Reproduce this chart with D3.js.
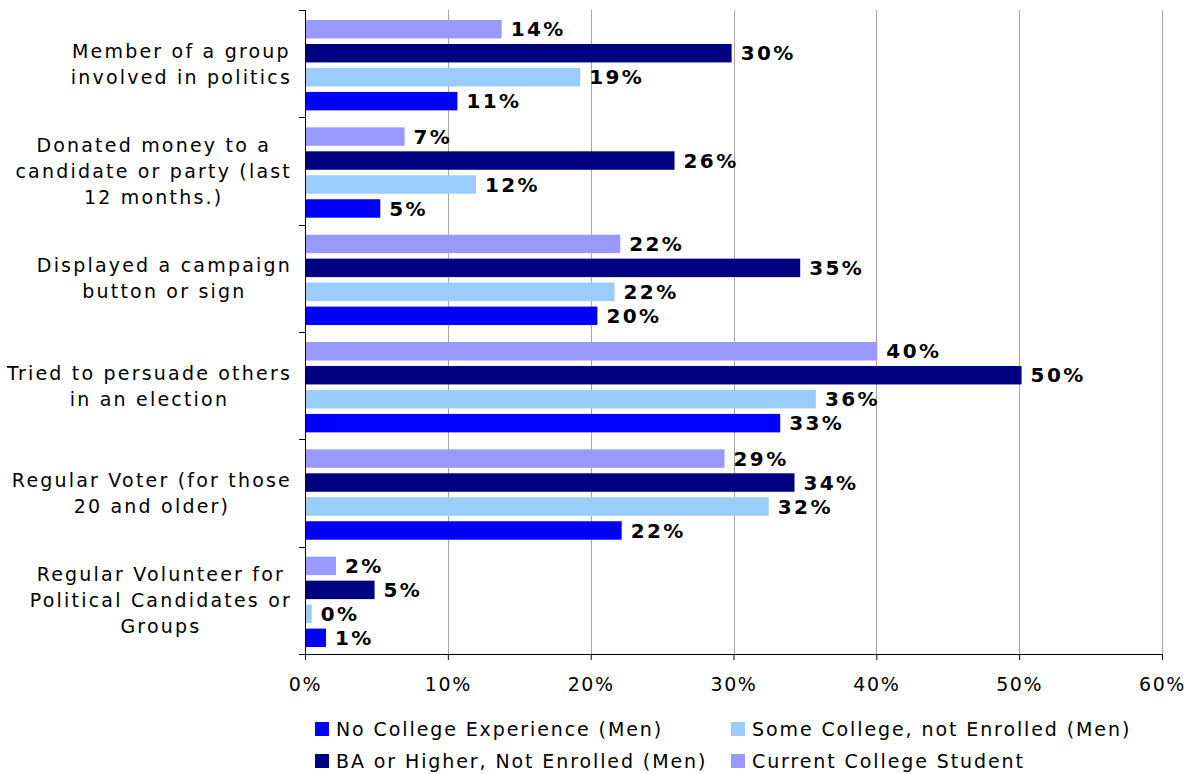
<!DOCTYPE html>
<html>
<head>
<meta charset="utf-8">
<script src="https://cdn.jsdelivr.net/npm/d3@7"></script>
<style>
  html, body { margin: 0; padding: 0; background: #fff; }
  svg { display: block; }
  text { font-family: "DejaVu Sans", Verdana, sans-serif; fill: #000; }
</style>
</head>
<body>
<svg id="chart" width="1191" height="774"></svg>
<script>
// Political participation by education (men), shares of each group
const categories = [
  "Member of a group\ninvolved in politics",
  "Donated money to a\ncandidate or party (last\n12 months.)",
  "Displayed a campaign\nbutton or sign",
  "Tried to persuade others\nin an election",
  "Regular Voter (for those\n20 and older)",
  "Regular Volunteer for\nPolitical Candidates or\nGroups"
];
const seriesNames = [
  "No College Experience (Men)",
  "Some College, not Enrolled (Men)",
  "BA or Higher, Not Enrolled (Men)",
  "Current College Student"
];
const noCollege   = [0.106, 0.052, 0.204, 0.332, 0.221, 0.014];
const someCollege = [0.192, 0.119, 0.216, 0.357, 0.324, 0.004];
const baOrHigher  = [0.298, 0.258, 0.346, 0.501, 0.342, 0.048];
const student     = [0.137, 0.069, 0.220, 0.400, 0.293, 0.021];
const xTicks = [0, 0.1, 0.2, 0.3, 0.4, 0.5, 0.6];
const colors = ["#0000FF", "#99CCFF", "#000080", "#9999FF"];

const seriesValues = [noCollege, someCollege, baOrHigher, student];

const svg = d3.select("#chart");
const plot = { left: 305, right: 1162, top: 10, bottom: 654 };

const x = d3.scaleLinear().domain([0, 0.6]).range([plot.left, plot.right]);
const y = d3.scaleBand().domain(categories).range([plot.top, plot.bottom]).padding(0);
// Within a category the student bar sits on top, no-college bar at the bottom
const inner = d3.scaleBand()
  .domain([3, 2, 1, 0])
  .range([0, y.bandwidth()])
  .paddingInner(0.23)
  .paddingOuter(0.354)
  .align(0.59);

const pct = d3.format(".0%");

// vertical gridlines
svg.append("g")
  .selectAll("line")
  .data(xTicks.slice(1))
  .join("line")
  .attr("x1", d => Math.round(x(d)) + 0.5)
  .attr("x2", d => Math.round(x(d)) + 0.5)
  .attr("y1", plot.top)
  .attr("y2", plot.bottom)
  .attr("stroke", "#a6a6a6")
  .attr("stroke-width", 1);

// bars and value labels
const rows = [];
categories.forEach((c, ci) => {
  seriesValues.forEach((vals, si) => rows.push({ c, si, v: vals[ci] }));
});

const barG = svg.append("g");
barG.selectAll("rect")
  .data(rows)
  .join("rect")
  .attr("x", x(0) + 1)
  .attr("y", d => y(d.c) + inner(d.si))
  .attr("width", d => Math.max(0, x(d.v) - x(0)))
  .attr("height", inner.bandwidth())
  .attr("fill", d => colors[d.si]);

barG.selectAll("text")
  .data(rows)
  .join("text")
  .attr("x", d => x(d.v) + 10)
  .attr("y", d => y(d.c) + inner(d.si) + inner.bandwidth() / 2)
  .attr("dy", "0.36em")
  .style("font-size", "20px")
  .style("font-weight", "bold")
  .style("letter-spacing", "2.4px")
  .text(d => pct(d.v));

// x axis
const xAxis = svg.append("g")
  .attr("transform", `translate(0,${plot.bottom})`)
  .call(d3.axisBottom(x).tickValues(xTicks).tickFormat(pct).tickSize(6).tickSizeOuter(0).tickPadding(18));
xAxis.select(".domain").attr("stroke", "#000");
xAxis.selectAll(".tick line").attr("stroke", "#000");
xAxis.selectAll(".tick text")
  .style("font-size", "19px")
  .style("letter-spacing", "1.6px")
  .attr("fill", "#000");

// y axis: line with ticks between categories
const yG = svg.append("g");
yG.append("line")
  .attr("x1", plot.left + 0.5).attr("x2", plot.left + 0.5)
  .attr("y1", plot.top).attr("y2", plot.bottom)
  .attr("stroke", "#000");
const bounds = categories.map(c => y(c)).concat([plot.bottom]);
yG.selectAll("line.tk")
  .data(bounds)
  .join("line")
  .attr("class", "tk")
  .attr("x1", plot.left - 6).attr("x2", plot.left)
  .attr("y1", d => Math.round(d) + 0.5).attr("y2", d => Math.round(d) + 0.5)
  .attr("stroke", "#000");

// category labels, centred lines, block right-aligned to the axis
const lineH = 26;
categories.forEach(c => {
  const lines = c.split("\n");
  const cy = y(c) + y.bandwidth() / 2;
  const t = yG.append("text")
    .attr("text-anchor", "middle")
    .style("font-size", "19px")
    .style("letter-spacing", "2.2px");
  lines.forEach((ln, i) => {
    t.append("tspan")
      .attr("x", 0)
      .attr("y", cy + (i - (lines.length - 1) / 2) * lineH)
      .attr("dy", "0.36em")
      .text(ln);
  });
  let maxW = 0;
  t.selectAll("tspan").each(function () { maxW = Math.max(maxW, this.getComputedTextLength()); });
  t.selectAll("tspan").attr("x", 292 - maxW / 2);
});

// legend: two columns, filled row by row
const legend = svg.append("g");
const legX = [315, 731];
const legY = [729, 761];
seriesNames.forEach((name, i) => {
  const gx = legX[i % 2], gy = legY[Math.floor(i / 2)];
  legend.append("rect")
    .attr("x", gx).attr("y", gy - 7)
    .attr("width", 14).attr("height", 14)
    .attr("fill", colors[i]);
  legend.append("text")
    .attr("x", gx + 21).attr("y", gy)
    .attr("dy", "0.36em")
    .style("font-size", "19px")
    .style("letter-spacing", "1.9px")
    .text(name);
});
</script>
</body>
</html>
